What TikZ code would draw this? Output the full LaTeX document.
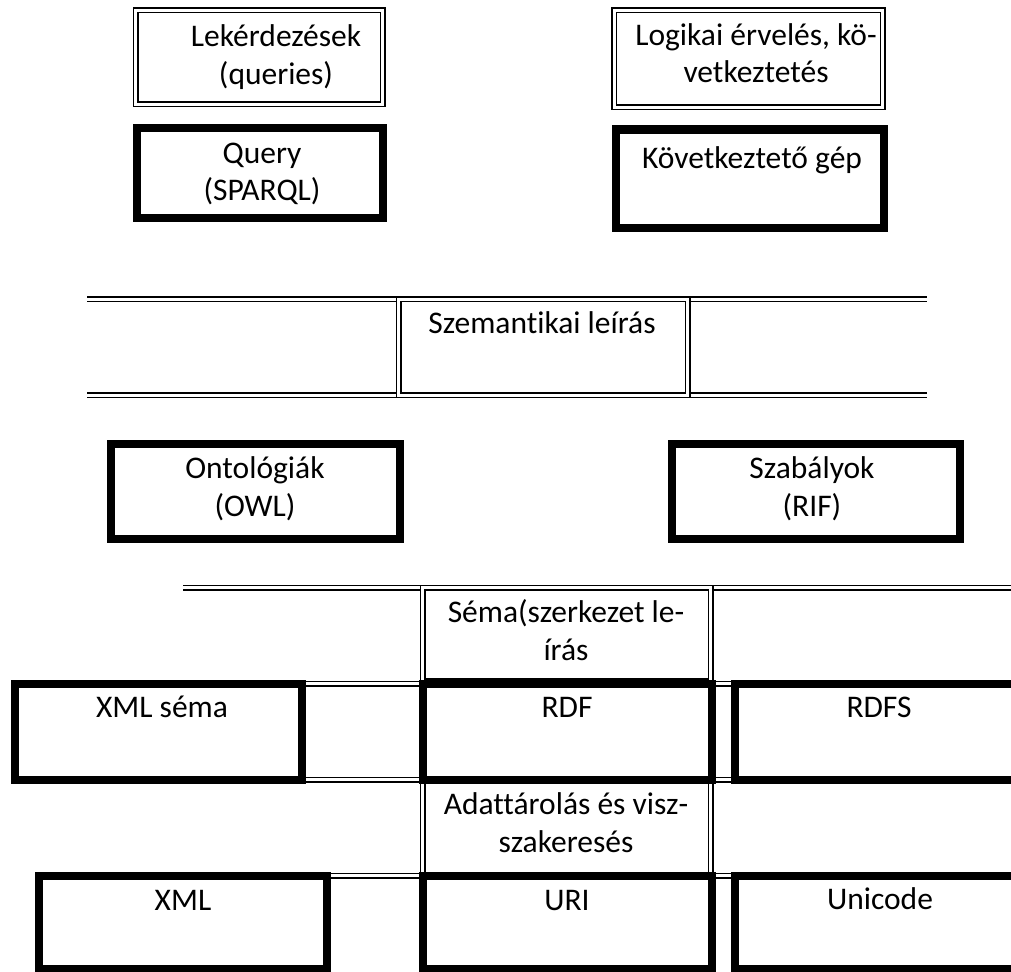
\documentclass[tikz,border=0pt]{standalone}
\usepackage{fontspec}
\setmainfont[Ligatures=NoCommon]{Carlito}
\begin{document}
\begin{tikzpicture}[x=1pt,y=-1pt,
  dbl/.style={draw=black,line width=1.5pt,double=white,double distance=3pt,line join=miter},
  heavybox/.style={draw=black,line width=8pt,fill=white,line join=miter},
  lbl/.style={anchor=base,align=center,inner sep=0pt,font=\fontsize{31.5}{37.5}\selectfont}]
\useasboundingbox (0,0) rectangle (1011,971);
\clip (0,0) rectangle (1011,971);

% --- top layer: queries and reasoning
\draw[dbl] (135.5,10.5) rectangle (382.5,104.5);
\draw[dbl] (614,10.5) rectangle (882.5,107.5);
\draw[heavybox] (137,128) rectangle (383,218);
\draw[heavybox] (615.5,129.5) rectangle (884,228);

% --- semantic description band
\draw[dbl] (87,299) -- (398.5,299);
\draw[dbl] (87,395) -- (398.5,395);
\draw[dbl] (687.5,299) -- (927,299);
\draw[dbl] (687.5,395) -- (927,395);
\draw[dbl] (398.5,299) rectangle (687.5,395);

% --- ontologies and rules
\draw[heavybox] (111,443.5) rectangle (400,539);
\draw[heavybox] (672,443.5) rectangle (960,539);

% --- lower table: grid lines
\draw[dbl] (183,587.5) -- (1020,587.5);
\draw[dbl] (183,683.5) -- (1020,683.5);
\draw[dbl] (302,779.5) -- (735,779.5);
\draw[dbl] (326,875.5) -- (735,875.5);
\draw[dbl] (422.5,587.5) rectangle (710.5,681);
\draw[dbl] (422.5,779.5) rectangle (710.5,875.5);

% --- lower table: framed cells
\draw[heavybox] (15,683.5) rectangle (302,779.5);
\draw[heavybox] (423,683.5) rectangle (711.5,779.5);
\draw[heavybox] (735,683.5) rectangle (1030,779.5);
\draw[heavybox] (39,875.5) rectangle (326.5,969);
\draw[heavybox] (423,875.5) rectangle (711.5,969);
\draw[heavybox] (735,875.5) rectangle (1030,969);

% --- labels (two-line labels are anchored at the baseline of their last line)
\node[lbl] (queries) at (276,84.5) {Lekérdezések\\(queries)};
\node[lbl] (logic) at (756,83) {Logikai érvelés, kö-\\vetkeztetés};
\node[lbl] (sparql) at (262,200.5) {Query\\(SPARQL)};
\node[lbl] (engine) at (752,168) {Következtető gép};
\node[lbl] (semantic) at (542,333) {Szemantikai leírás};
\node[lbl] (owl) at (255,516) {Ontológiák\\(OWL)};
\node[lbl] (rif) at (812,516) {Szabályok\\(RIF)};
\node[lbl] (schema) at (566,660) {Séma(szerkezet le-\\írás};
\node[lbl] (xmlschema) at (162,717) {XML séma};
\node[lbl] (rdf) at (567,717) {RDF};
\node[lbl] (rdfs) at (879,717) {RDFS};
\node[lbl] (storage) at (566,852) {Adattárolás és visz-\\szakeresés};
\node[lbl] (xml) at (183,910) {XML};
\node[lbl] (uri) at (567,910) {URI};
\node[lbl] (unicode) at (880,909) {Unicode};
\end{tikzpicture}
\end{document}
